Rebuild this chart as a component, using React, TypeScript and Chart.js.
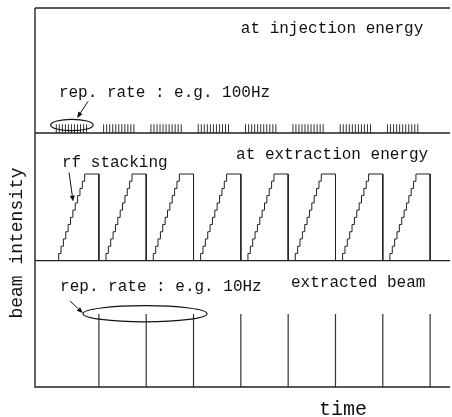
import React, { useEffect, useRef } from "react";
import { Chart, registerables } from "chart.js";

Chart.register(...registerables);

// time axis (arbitrary units, 100 units = one 10 Hz cycle)
const timeMax = 877;
// panel baselines (bottom, middle, top) and top of frame
const panelBase = [0, 1, 2.01];
const frameTop = 3;

// injection bursts (panel 1)
const burstStarts = [45, 145, 245, 345, 445, 545, 645, 745];
const burstOffsets = [0, 6.4, 12.8, 19.2, 25.6, 32, 38.4, 44.8, 51.2, 57.6, 64];
const burstHeight = 0.07;

// rf stacking (panel 2)
const cycleStarts = [50, 150, 250, 350, 450, 550, 650, 750];
const stepOffsets = [0, 5, 10, 15, 20, 25, 30, 35, 40, 45, 50, 55];
const stepLevels = [0.057, 0.114, 0.172, 0.229, 0.286, 0.343, 0.4, 0.457, 0.515, 0.572, 0.629, 0.686];
const dropOffset = 85;

// extracted beam (panel 3)
const extractionTimes = [135, 235, 335, 435, 535, 635, 735, 835];
const extractionHeight = 0.578;

// annotations
const labels = [
  { text: "at injection energy", x: 435, y: 2.835 },
  { text: "rep. rate : e.g. 100Hz", x: 50.5, y: 2.33 },
  { text: "at extraction energy", x: 425, y: 1.837 },
  { text: "rf stacking", x: 57, y: 1.774 },
  { text: "rep. rate : e.g. 10Hz", x: 53, y: 0.792 },
  { text: "extracted beam", x: 541, y: 0.823 },
];
const ellipses = [
  { cx: 78, cy: 2.074, rx: 45, ry: 0.045 },
  { cx: 232.5, cy: 0.58, rx: 131, ry: 0.064 },
];
const arrows = [
  { x1: 112, y1: 2.26, x2: 89, y2: 2.13 },
  { x1: 72, y1: 1.698, x2: 80.5, y2: 1.468 },
  { x1: 74, y1: 0.681, x2: 101, y2: 0.585 },
];

type P = { x: number; y: number | null };

function buildFrame(): P[] {
  const pts: P[] = [];
  pts.push({ x: 0, y: frameTop }, { x: 0, y: 0 }, { x: timeMax, y: 0 }, { x: timeMax, y: null });
  pts.push({ x: 0, y: frameTop }, { x: timeMax, y: frameTop }, { x: timeMax, y: null });
  pts.push({ x: 0, y: panelBase[1] }, { x: timeMax, y: panelBase[1] }, { x: timeMax, y: null });
  pts.push({ x: 0, y: panelBase[2] }, { x: timeMax, y: panelBase[2] }, { x: timeMax, y: null });
  return pts;
}

function buildBursts(): P[] {
  const pts: P[] = [];
  for (const s of burstStarts) {
    for (const o of burstOffsets) {
      const t = s + o;
      pts.push({ x: t, y: panelBase[2] }, { x: t, y: panelBase[2] + burstHeight }, { x: t, y: null });
    }
  }
  return pts;
}

function buildStacking(): P[] {
  const pts: P[] = [];
  const b = panelBase[1];
  for (const s of cycleStarts) {
    pts.push({ x: s, y: b });
    let prev = 0;
    stepOffsets.forEach((o, i) => {
      pts.push({ x: s + o, y: b + prev });
      pts.push({ x: s + o, y: b + stepLevels[i] });
      prev = stepLevels[i];
    });
    pts.push({ x: s + dropOffset, y: b + prev });
    pts.push({ x: s + dropOffset, y: b });
    pts.push({ x: s + dropOffset, y: null });
  }
  return pts;
}

function buildExtraction(): P[] {
  const pts: P[] = [];
  for (const t of extractionTimes) {
    pts.push({ x: t, y: panelBase[0] }, { x: t, y: panelBase[0] + extractionHeight }, { x: t, y: null });
  }
  return pts;
}

const MONO = '"Liberation Mono", "DejaVu Sans Mono", monospace';

const annotationPlugin = {
  id: "annotations",
  afterDatasetsDraw(chart: any) {
    const ctx = chart.ctx as CanvasRenderingContext2D;
    const xs = chart.scales.x;
    const ys = chart.scales.y;
    ctx.save();
    ctx.fillStyle = "#111";
    ctx.strokeStyle = "#111";
    ctx.font = `16px ${MONO}`;
    ctx.textBaseline = "middle";
    ctx.textAlign = "left";
    for (const l of labels) {
      ctx.fillText(l.text, xs.getPixelForValue(l.x), ys.getPixelForValue(l.y));
    }
    ctx.lineWidth = 1.2;
    for (const e of ellipses) {
      const cx = xs.getPixelForValue(e.cx);
      const cy = ys.getPixelForValue(e.cy);
      const rx = Math.abs(xs.getPixelForValue(e.cx + e.rx) - cx);
      const ry = Math.abs(ys.getPixelForValue(e.cy + e.ry) - cy);
      ctx.beginPath();
      ctx.ellipse(cx, cy, rx, ry, 0, 0, Math.PI * 2);
      ctx.stroke();
    }
    ctx.lineWidth = 1;
    for (const a of arrows) {
      const x1 = xs.getPixelForValue(a.x1);
      const y1 = ys.getPixelForValue(a.y1);
      const x2 = xs.getPixelForValue(a.x2);
      const y2 = ys.getPixelForValue(a.y2);
      const ang = Math.atan2(y2 - y1, x2 - x1);
      const hl = 6;
      const hw = 2.5;
      const bx = x2 - hl * Math.cos(ang);
      const by = y2 - hl * Math.sin(ang);
      ctx.beginPath();
      ctx.moveTo(x1, y1);
      ctx.lineTo(bx, by);
      ctx.stroke();
      ctx.beginPath();
      ctx.moveTo(x2, y2);
      ctx.lineTo(bx + hw * Math.sin(ang), by - hw * Math.cos(ang));
      ctx.lineTo(bx - hw * Math.sin(ang), by + hw * Math.cos(ang));
      ctx.closePath();
      ctx.fill();
    }
    // axis titles
    ctx.textAlign = "center";
    ctx.font = `20px ${MONO}`;
    ctx.fillText("time", xs.getPixelForValue(651), chart.chartArea.bottom + 23);
    ctx.save();
    ctx.translate(17, 243);
    ctx.rotate(-Math.PI / 2);
    ctx.font = `18px ${MONO}`;
    ctx.fillText("beam intensity", 0, 0);
    ctx.restore();
    ctx.restore();
  },
};

export default function App() {
  const ref = useRef<HTMLCanvasElement | null>(null);
  useEffect(() => {
    if (!ref.current) return;
    const lineDs = (data: P[], color: string, width: number) => ({
      data,
      showLine: true,
      spanGaps: false,
      pointRadius: 0,
      borderColor: color,
      borderWidth: width,
      clip: false as any,
    });
    const chart = new Chart(ref.current, {
      type: "scatter",
      data: {
        datasets: [
          lineDs(buildFrame(), "#222", 1.4),
          lineDs(buildBursts(), "#333", 1),
          lineDs(buildStacking(), "#222", 1),
          lineDs(buildExtraction(), "#333", 1.2),
        ] as any,
      },
      options: {
        animation: false,
        responsive: false,
        layout: { padding: { left: 35, top: 8, right: 2, bottom: 30 } },
        plugins: { legend: { display: false }, tooltip: { enabled: false } },
        scales: {
          x: { type: "linear", min: 0, max: timeMax, display: false },
          y: { type: "linear", min: 0, max: frameTop, display: false },
        },
      },
      plugins: [annotationPlugin],
    });
    return () => chart.destroy();
  }, []);
  return (
    <div style={{ position: "absolute", left: 0, top: 0, width: 452, height: 417, background: "#fff" }}>
      <canvas ref={ref} width={452} height={417} style={{ display: "block" }} />
    </div>
  );
}
